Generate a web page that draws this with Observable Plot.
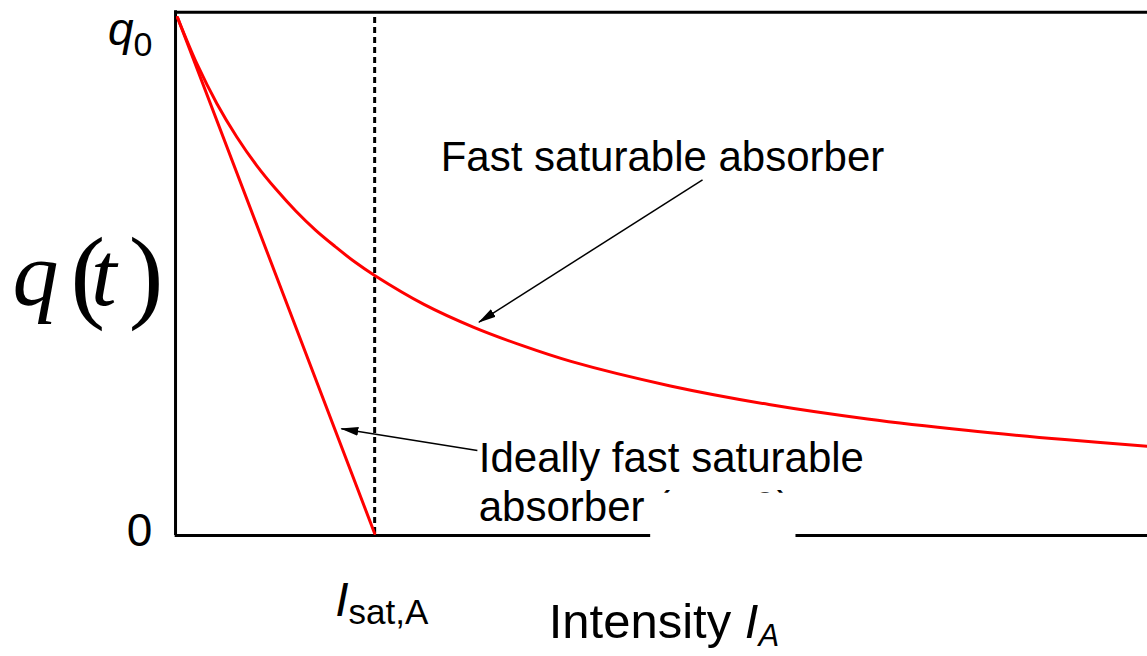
<!DOCTYPE html>
<html><head><meta charset="utf-8">
<script src="https://cdn.jsdelivr.net/npm/d3@7"></script>
<script src="https://cdn.jsdelivr.net/npm/@observablehq/plot@0.6"></script>
<style>html,body{margin:0;padding:0;background:#fff;}</style>
</head><body><div id="chart"></div>
<script>
// Intensity in units of I_sat,A ; absorption q in units of q0
const intensity = [0, 0.1, 0.2, 0.3, 0.4, 0.5, 0.6, 0.7, 0.8, 0.9, 1, 1.25, 1.5, 1.75, 2, 2.5, 3, 3.5, 4, 4.5, 4.92];
const fastQ     = [1, 0.909, 0.833, 0.769, 0.714, 0.667, 0.625, 0.588, 0.556, 0.526, 0.50, 0.444, 0.40, 0.364, 0.333, 0.286, 0.25, 0.222, 0.20, 0.182, 0.169];
const idealIntensity = [0, 1];
const idealQ = [1, 0];
const satIntensity = [1];
const yTickLabels = ["q0", "0"];
const annotations = ["Fast saturable absorber", "Ideally fast saturable", "absorber (τA = 0)"];
const yTitle = "q(t)";
const xTickLabel = "Isat,A";
const xTitle = "Intensity IA";

const fast = intensity.map((x, i) => ({x, q: fastQ[i]}));
const ideal = idealIntensity.map((x, i) => ({x, q: idealQ[i]}));
const sans = "'Liberation Sans', Arial, Helvetica, sans-serif";
const serif = "'Liberation Serif', 'Times New Roman', serif";

const plot = Plot.plot({
  width: 1147, height: 656,
  marginLeft: 177, marginRight: 0, marginTop: 17, marginBottom: 123,
  x: {domain: [0, 4.92], axis: null},
  y: {domain: [0, 1], axis: null},
  style: {fontFamily: sans, background: "#fff", overflow: "visible", color: "#000"},
  marks: [
    // frame
    Plot.ruleY([1.01], {x1: -0.012, x2: 4.92, stroke: "#000", strokeWidth: 3}),
    Plot.ruleX([-0.01], {y1: -0.004, y2: 1.013, stroke: "#000", strokeWidth: 3}),
    Plot.ruleY([-0.004], {x1: -0.012, x2: 4.92, stroke: "#000", strokeWidth: 3}),
    // saturation intensity marker
    Plot.ruleX(satIntensity, {y1: 0, y2: 1.0, stroke: "#000", strokeWidth: 3, strokeDasharray: "6,4"}),
    // curves
    Plot.line(fast, {x: "x", y: "q", stroke: "#f00", strokeWidth: 3, curve: "catmull-rom"}),
    Plot.line(ideal, {x: "x", y: "q", stroke: "#f00", strokeWidth: 3}),
    // annotations
    Plot.text([annotations[0]], {x: 1.335, y: 0.729, text: d => d, textAnchor: "start", fontSize: 42}),
    Plot.text([annotations[1]], {x: 1.528, y: 0.145, text: d => d, textAnchor: "start", fontSize: 42}),
    Plot.text([annotations[2]], {x: 1.528, y: 0.050, text: d => d, textAnchor: "start", fontSize: 42}),
    Plot.rect([0], {x1: 2.40, x2: 3.137, y1: -0.014, y2: 0.078, fill: "#fff"}),
    Plot.link([0], {x1: 2.663, y1: 0.6855, x2: 1.529, y2: 0.4095, stroke: "#000", strokeWidth: 1.5}),
    Plot.link([0], {x1: 1.521, y1: 0.161, x2: 0.831, y2: 0.203, stroke: "#000", strokeWidth: 1.5}),
    // tick labels and titles
    Plot.text([yTickLabels[0]], {x: -0.127, y: 0.975, text: d => d, textAnchor: "end", fontSize: 46}),
    Plot.text([yTickLabels[1]], {x: -0.127, y: 0.005, text: d => d, textAnchor: "end", fontSize: 46}),
    Plot.text([yTitle], {x: -0.49, y: 0.5, text: d => d, fontSize: 92, fontFamily: serif}),
    Plot.text([xTickLabel], {x: 0.80, y: -0.13, text: d => d, textAnchor: "start", fontSize: 48}),
    Plot.text([xTitle], {x: 1.883, y: -0.172, text: d => d, textAnchor: "start", fontSize: 49})
  ]
});

const svg = d3.select(plot);
// filled arrowheads
const defs = svg.append("defs");
defs.append("marker").attr("id", "ah").attr("viewBox", "0 -5 18 10")
  .attr("refX", 17).attr("refY", 0).attr("markerUnits", "userSpaceOnUse")
  .attr("markerWidth", 18).attr("markerHeight", 10).attr("orient", "auto")
  .append("path").attr("d", "M0,-4.5L18,0L0,4.5Z").attr("fill", "#000");
svg.selectAll("g[aria-label=link] path").attr("marker-end", "url(#ah)");

// rich text (italics, subscripts)
const rich = {
  "q0": [{t: "q", italic: true, size: 46}, {t: "0", size: 34, dy: 11}],
  "q(t)": [{t: "q", italic: true, size: 92}, {t: " (", size: 104, dy: 4}, {t: "t", italic: true, size: 92, dy: -4}, {t: " )", size: 104, dy: 4}],
  "Isat,A": [{t: "I", italic: true, size: 48}, {t: "sat,A", size: 35, dy: 8}],
  "Intensity IA": [{t: "Intensity ", size: 49}, {t: "I", italic: true, size: 49}, {t: "A", italic: true, size: 31, dy: 8}],
  "absorber (τA = 0)": [{t: "absorber (τ", size: 42}, {t: "A", size: 28, dy: 8}, {t: " = 0)", size: 42, dy: -8}]
};
svg.selectAll("text").each(function() {
  const parts = rich[this.textContent];
  if (!parts) return;
  const t = d3.select(this);
  t.text(null);
  parts.forEach(p => {
    const s = t.append("tspan").attr("font-size", p.size).text(p.t);
    if (p.italic) s.attr("font-style", "italic");
    if (p.dy) s.attr("dy", p.dy);
  });
});
svg.selectAll("tspan").filter(function() { return this.textContent.trim() === "(" || this.textContent.trim() === ")"; })
  .attr("letter-spacing", "-14");
// keep the white patch above the annotation text
svg.select("g[aria-label=rect]").raise();
svg.selectAll("g[aria-label=link]").raise();

document.getElementById("chart").appendChild(plot);
</script>
</body></html>
